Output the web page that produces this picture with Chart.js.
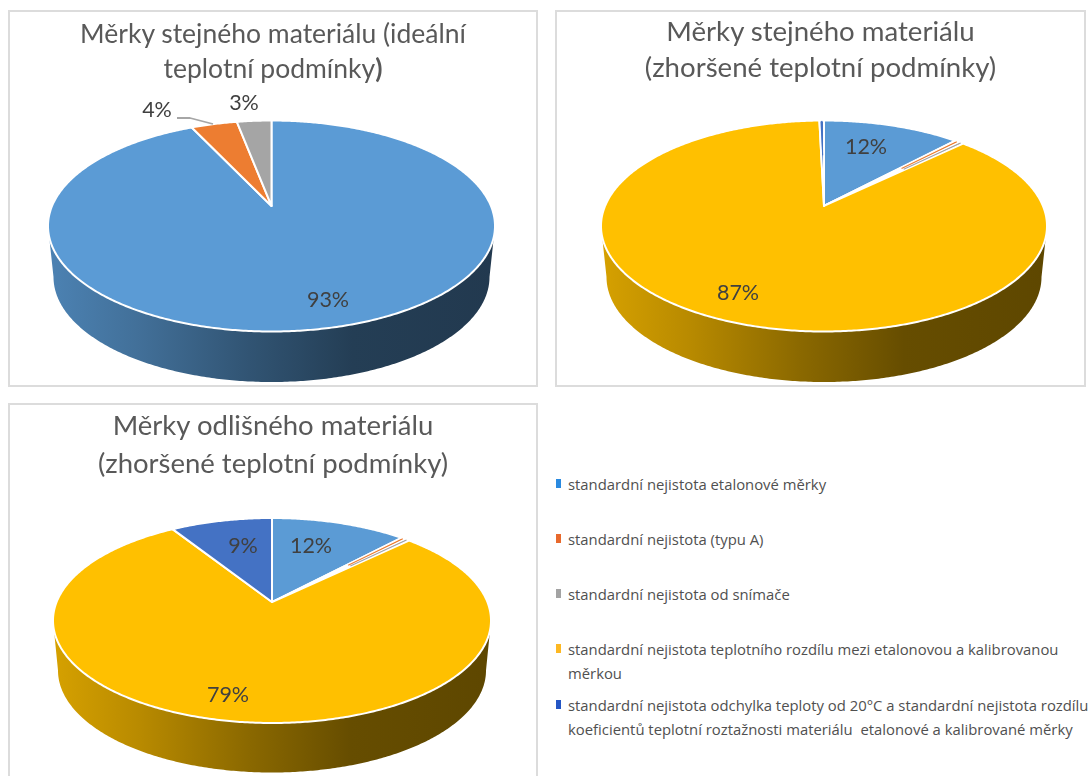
<!DOCTYPE html>
<html lang="cs">
<head>
<meta charset="utf-8">
<title>Standardní nejistoty měrek</title>
<script src="https://cdn.jsdelivr.net/npm/chart.js@4/dist/chart.umd.min.js"></script>
<style>
    html, body { margin: 0; padding: 0; background: #fff; overflow: hidden; }
    body { position: relative; width: 1088px; height: 776px; }
    .panel { position: absolute; box-shadow: inset 0 0 0 2px #dcdcdc; }
    .panel canvas { position: absolute; left: 0; top: 0; }
    .panel-title {
        position: absolute; left: 0; right: 0; text-align: center; white-space: nowrap;
        font-family: Lato, sans-serif; color: #595959;
    }
    #legend { position: absolute; left: 556px; top: 0; font-family: "Open Sans", sans-serif; font-size: 14.85px; color: #505050; }
    .legend-item { position: absolute; left: 12px; white-space: pre; line-height: 24px; }
    .legend-item i { position: absolute; left: -12px; top: 7px; width: 5px; height: 9px; }
</style>
</head>
<body>
<div id="legend"></div>
<script>
const categories = [
    'standardní nejistota etalonové měrky',
    'standardní nejistota (typu A)',
    'standardní nejistota od snímače',
    'standardní nejistota teplotního rozdílu mezi etalonovou a kalibrovanou\nměrkou',
    'standardní nejistota odchylka teploty od 20°C a standardní nejistota rozdílu\nkoeficientů teplotní roztažnosti materiálu  etalonové a kalibrované měrky'
];

const idealSameMaterial = [93, 4, 3, 0, 0];
const worseSameMaterial = [12, 0.4, 0.4, 87, 0.4];
const worseOtherMaterial = [12, 0.4, 0.4, 79, 9];

const titleIdeal = ['Měrky stejného materiálu (ideální', 'teplotní podmínky)'];
const titleSame = ['Měrky stejného materiálu', '(zhoršené teplotní podmínky)'];
const titleOther = ['Měrky odlišného materiálu', '(zhoršené teplotní podmínky)'];

const sliceColors = ['#5B9BD5', '#ED7D31', '#A5A5A5', '#FFC000', '#4472C4'];
const legendColors = ['#2a8ae0', '#e8692c', '#a3a3a3', '#fdb822', '#2456c4'];
const legendRows = [472, 527, 582, 637, 693];

// brightness of the pie wall from left to right
const wallShade = [[0, 0.84], [0.2, 0.72], [0.45, 0.54], [0.68, 0.4], [1, 0.37]];

const panels = [
    {
        id: 'ideal', box: [8, 10, 530, 377], values: idealSameMaterial, title: titleIdeal, boldParen: true,
        titleTop: [7, 42], titleSize: 26.5,
        pie: { cx: 263.5, cy: 216, rx: 223.5, ry: 105.5, tilt: -0.19, depth: 51, baseRx: 218, baseRy: 105 },
        labels: { 0: [320, 290], 1: [149, 100], 2: [236, 93] },
        leader: [[169, 108], [182, 108], [205, 114]]
    },
    {
        id: 'same', box: [555, 10, 531, 377], values: worseSameMaterial, title: titleSame,
        titleTop: [4, 40], titleSize: 27.6,
        pie: { cx: 269, cy: 216, rx: 223, ry: 105.5, tilt: -0.19, depth: 51, baseRx: 217.5, baseRy: 105 },
        labels: { 0: [311, 137], 3: [183, 283] }
    },
    {
        id: 'other', box: [8, 403, 530, 390], values: worseOtherMaterial, title: titleOther,
        titleTop: [5, 43], titleSize: 27.5,
        pie: { cx: 264, cy: 217.5, rx: 219, ry: 102.5, tilt: -0.18, depth: 50, baseRx: 214, baseRy: 102 },
        labels: { 0: [303, 143], 3: [220, 292], 4: [235, 143] }
    }
];

// Projects a point of the unit disc onto the tilted ellipse, so the pie centre sits above the ellipse centre
function projectDisc(angle, radius, pie, rx, ry, offsetY) {
    const u = Math.cos(angle) * radius;
    const v = Math.sin(angle) * radius;
    const gamma = 1 / Math.sqrt(1 - pie.tilt * pie.tilt);
    const w = 1 + pie.tilt * v;
    return {
        x: pie.cx + rx * u / (gamma * w),
        y: pie.cy + offsetY + ry * (v + pie.tilt) / w
    };
}

function shadeColor(hex, factor) {
    const n = parseInt(hex.slice(1), 16);
    const r = Math.round((n >> 16 & 255) * factor);
    const g = Math.round((n >> 8 & 255) * factor);
    const b = Math.round((n & 255) * factor);
    return `rgb(${r},${g},${b})`;
}

function sweepAngles(start, end) {
    const steps = Math.max(2, Math.ceil((end - start) / 0.01));
    const angles = [];
    for (let i = 0; i <= steps; i++) angles.push(start + (end - start) * i / steps);
    return angles;
}

// Wall below the rim, only the part of each slice that faces the viewer
function drawWalls(ctx, arcs, pie) {
    const from = Math.asin(-pie.tilt);
    const to = Math.PI - from;
    arcs.forEach(arc => {
        const start = Math.max(arc.startAngle, from);
        const end = Math.min(arc.endAngle, to);
        if (end <= start) return;

        const gradient = ctx.createLinearGradient(pie.cx - pie.rx, 0, pie.cx + pie.rx, 0);
        wallShade.forEach(([stop, factor]) => {
            gradient.addColorStop(stop, shadeColor(arc.options.backgroundColor, factor));
        });

        const angles = sweepAngles(start, end);
        ctx.beginPath();
        angles.forEach((a, i) => {
            const p = projectDisc(a, 1, pie, pie.rx, pie.ry, 0);
            if (i === 0) ctx.moveTo(p.x, p.y);
            else ctx.lineTo(p.x, p.y);
        });
        angles.reverse().forEach(a => {
            const p = projectDisc(a, 1, pie, pie.baseRx, pie.baseRy, pie.depth);
            ctx.lineTo(p.x, p.y);
        });
        ctx.closePath();
        ctx.fillStyle = gradient;
        ctx.fill();
    });
}

function drawFaces(ctx, arcs, pie) {
    arcs.forEach(arc => {
        const centre = projectDisc(0, 0, pie, pie.rx, pie.ry, 0);
        ctx.beginPath();
        ctx.moveTo(centre.x, centre.y);
        sweepAngles(arc.startAngle, arc.endAngle).forEach(a => {
            const p = projectDisc(a, 1, pie, pie.rx, pie.ry, 0);
            ctx.lineTo(p.x, p.y);
        });
        ctx.closePath();
        ctx.fillStyle = arc.options.backgroundColor;
        ctx.fill();
        ctx.strokeStyle = arc.options.borderColor;
        ctx.lineWidth = arc.options.borderWidth;
        ctx.lineJoin = 'round';
        ctx.stroke();
    });

    // Very thin slices would vanish under the white borders, so they get a sliver on top
    arcs.filter(arc => arc.endAngle - arc.startAngle < 0.04).forEach(arc => {
        const mid = (arc.startAngle + arc.endAngle) / 2;
        const inner = projectDisc(mid, 0.55, pie, pie.rx, pie.ry, 0);
        const outer = projectDisc(mid, 0.995, pie, pie.rx, pie.ry, 0);
        ctx.beginPath();
        ctx.moveTo(inner.x, inner.y);
        ctx.lineTo(outer.x, outer.y);
        ctx.strokeStyle = arc.options.backgroundColor;
        ctx.lineWidth = 1.1;
        ctx.stroke();
    });
}

// Draws the slices from the arc elements the pie controller has laid out
const tiltedPie = {
    id: 'tiltedPie',
    beforeDatasetDraw(chart, args, opts) {
        const ctx = chart.ctx;
        const arcs = args.meta.data.filter(arc => arc.endAngle - arc.startAngle > 0);
        ctx.save();
        drawWalls(ctx, arcs, opts.pie);
        drawFaces(ctx, arcs, opts.pie);

        if (opts.leader) {
            ctx.beginPath();
            opts.leader.forEach(([x, y], i) => {
                if (i === 0) ctx.moveTo(x, y);
                else ctx.lineTo(x, y);
            });
            ctx.strokeStyle = '#a6a6a6';
            ctx.lineWidth = 1.8;
            ctx.stroke();
        }

        ctx.font = '21.5px Lato, sans-serif';
        ctx.fillStyle = '#404040';
        ctx.textAlign = 'center';
        ctx.textBaseline = 'middle';
        Object.keys(opts.labels).forEach(i => {
            const [x, y] = opts.labels[i];
            ctx.fillText(`${chart.data.datasets[0].data[i]}%`, x, y);
        });
        ctx.restore();
        return false;
    }
};

function initPanel(panel) {
    const [left, top, width, height] = panel.box;
    const div = document.createElement('div');
    div.className = 'panel';
    div.style.cssText = `left:${left}px;top:${top}px;width:${width}px;height:${height}px`;

    const canvas = document.createElement('canvas');
    canvas.id = panel.id;
    canvas.width = width;
    canvas.height = height;
    canvas.style.width = width + 'px';
    canvas.style.height = height + 'px';
    div.appendChild(canvas);

    panel.title.forEach((line, i) => {
        const t = document.createElement('div');
        t.className = 'panel-title';
        t.style.top = panel.titleTop[i] + 'px';
        t.style.fontSize = panel.titleSize + 'px';
        if (panel.boldParen && i === panel.title.length - 1) {
            t.textContent = line.slice(0, -1);
            const paren = document.createElement('b');
            paren.textContent = line.slice(-1);
            t.appendChild(paren);
        } else {
            t.textContent = line;
        }
        div.appendChild(t);
    });
    document.body.appendChild(div);

    new Chart(canvas, {
        type: 'pie',
        data: {
            labels: categories,
            datasets: [{
                data: panel.values,
                backgroundColor: sliceColors,
                borderColor: '#ffffff',
                borderWidth: 2
            }]
        },
        options: {
            responsive: false,
            animation: false,
            events: [],
            plugins: {
                legend: { display: false },
                tooltip: { enabled: false },
                tiltedPie: { pie: panel.pie, labels: panel.labels, leader: panel.leader }
            }
        },
        plugins: [tiltedPie]
    });
}

function initLegend() {
    const legend = document.getElementById('legend');
    categories.forEach((text, i) => {
        const item = document.createElement('div');
        item.className = 'legend-item';
        item.style.top = legendRows[i] + 'px';
        item.textContent = text;
        const mark = document.createElement('i');
        mark.style.background = legendColors[i];
        item.appendChild(mark);
        legend.appendChild(item);
    });
}

panels.forEach(initPanel);
initLegend();
</script>
</body>
</html>
